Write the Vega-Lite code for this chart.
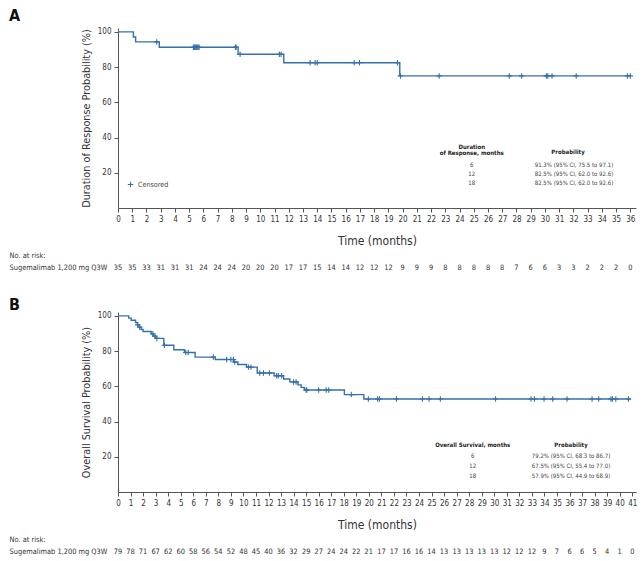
{
  "$schema": "https://vega.github.io/schema/vega-lite/v6.json",
  "padding": {"left": 9, "top": 7, "right": 2, "bottom": 2},
  "background": "white",
  "config": {
    "font": "DejaVu Sans Condensed, DejaVu Sans, sans-serif",
    "view": {"stroke": null},
    "axis": {"domainColor": "#555", "tickColor": "#555", "labelColor": "#333", "titleColor": "#333", "labelFontSize": 8, "titleFontSize": 12, "titleFontWeight": "normal", "tickSize": 4, "labelPadding": 3, "grid": false},
    "title": {"fontSize": 16, "fontWeight": "bold", "anchor": "start", "color": "#111"},
    "legend": {"title": null, "orient": "none", "symbolType": "M0,-1L0,1M-1,0L1,0", "symbolSize": 30, "symbolStrokeWidth": 1.1, "labelFontSize": 7.1, "labelColor": "#444", "padding": 0}
  },
  "datasets": {
    "a_curve": [
      {"t": 0, "s": 100}, {"t": 1.08, "s": 97.1}, {"t": 1.24, "s": 94.3}, {"t": 2.9, "s": 91.3},
      {"t": 8.44, "s": 87.3}, {"t": 11.65, "s": 82.5}, {"t": 19.8, "s": 75.0}, {"t": 36.0, "s": 75.0}
    ],
    "a_cens": [
      {"t": 2.72, "s": 94.3, "status": "Censored"},
      {"t": 5.3, "s": 91.3, "status": "Censored"}, {"t": 5.37, "s": 91.3, "status": "Censored"},
      {"t": 5.43, "s": 91.3, "status": "Censored"}, {"t": 5.5, "s": 91.3, "status": "Censored"},
      {"t": 5.57, "s": 91.3, "status": "Censored"}, {"t": 5.63, "s": 91.3, "status": "Censored"},
      {"t": 5.7, "s": 91.3, "status": "Censored"},
      {"t": 8.25, "s": 91.3, "status": "Censored"}, {"t": 8.3, "s": 91.3, "status": "Censored"},
      {"t": 8.58, "s": 87.3, "status": "Censored"},
      {"t": 11.34, "s": 87.3, "status": "Censored"}, {"t": 11.46, "s": 87.3, "status": "Censored"},
      {"t": 13.5, "s": 82.5, "status": "Censored"}, {"t": 13.85, "s": 82.5, "status": "Censored"},
      {"t": 14.0, "s": 82.5, "status": "Censored"}, {"t": 16.6, "s": 82.5, "status": "Censored"},
      {"t": 16.97, "s": 82.5, "status": "Censored"}, {"t": 19.64, "s": 82.5, "status": "Censored"},
      {"t": 19.85, "s": 75.0, "status": "Censored"}, {"t": 22.57, "s": 75.0, "status": "Censored"},
      {"t": 27.5, "s": 75.0, "status": "Censored"}, {"t": 28.36, "s": 75.0, "status": "Censored"},
      {"t": 30.1, "s": 75.0, "status": "Censored"}, {"t": 30.2, "s": 75.0, "status": "Censored"},
      {"t": 30.5, "s": 75.0, "status": "Censored"}, {"t": 32.2, "s": 75.0, "status": "Censored"},
      {"t": 35.8, "s": 75.0, "status": "Censored"}, {"t": 36.0, "s": 75.0, "status": "Censored"}
    ],
    "a_table_head": [
      {"c": 0, "r": 0, "label": "Duration\nof Response, months"},
      {"c": 1, "r": 0, "label": "Probability"}
    ],
    "a_table": [
      {"c": 0, "r": 1, "label": "6"},
      {"c": 1, "r": 1, "label": "91.3% (95% CI, 75.5 to 97.1)"},
      {"c": 0, "r": 2, "label": "12"},
      {"c": 1, "r": 2, "label": "82.5% (95% CI, 62.0 to 92.6)"},
      {"c": 0, "r": 3, "label": "18"},
      {"c": 1, "r": 3, "label": "82.5% (95% CI, 62.0 to 92.6)"}
    ],
    "a_risk": [
      {"t": 0, "n": 35, "g": "Sugemalimab 1,200 mg Q3W"}, {"t": 1, "n": 35, "g": "Sugemalimab 1,200 mg Q3W"},
      {"t": 2, "n": 33, "g": "Sugemalimab 1,200 mg Q3W"}, {"t": 3, "n": 31, "g": "Sugemalimab 1,200 mg Q3W"},
      {"t": 4, "n": 31, "g": "Sugemalimab 1,200 mg Q3W"}, {"t": 5, "n": 31, "g": "Sugemalimab 1,200 mg Q3W"},
      {"t": 6, "n": 24, "g": "Sugemalimab 1,200 mg Q3W"}, {"t": 7, "n": 24, "g": "Sugemalimab 1,200 mg Q3W"},
      {"t": 8, "n": 24, "g": "Sugemalimab 1,200 mg Q3W"}, {"t": 9, "n": 20, "g": "Sugemalimab 1,200 mg Q3W"},
      {"t": 10, "n": 20, "g": "Sugemalimab 1,200 mg Q3W"}, {"t": 11, "n": 20, "g": "Sugemalimab 1,200 mg Q3W"},
      {"t": 12, "n": 17, "g": "Sugemalimab 1,200 mg Q3W"}, {"t": 13, "n": 17, "g": "Sugemalimab 1,200 mg Q3W"},
      {"t": 14, "n": 15, "g": "Sugemalimab 1,200 mg Q3W"}, {"t": 15, "n": 14, "g": "Sugemalimab 1,200 mg Q3W"},
      {"t": 16, "n": 14, "g": "Sugemalimab 1,200 mg Q3W"}, {"t": 17, "n": 12, "g": "Sugemalimab 1,200 mg Q3W"},
      {"t": 18, "n": 12, "g": "Sugemalimab 1,200 mg Q3W"}, {"t": 19, "n": 12, "g": "Sugemalimab 1,200 mg Q3W"},
      {"t": 20, "n": 9, "g": "Sugemalimab 1,200 mg Q3W"}, {"t": 21, "n": 9, "g": "Sugemalimab 1,200 mg Q3W"},
      {"t": 22, "n": 9, "g": "Sugemalimab 1,200 mg Q3W"}, {"t": 23, "n": 8, "g": "Sugemalimab 1,200 mg Q3W"},
      {"t": 24, "n": 8, "g": "Sugemalimab 1,200 mg Q3W"}, {"t": 25, "n": 8, "g": "Sugemalimab 1,200 mg Q3W"},
      {"t": 26, "n": 8, "g": "Sugemalimab 1,200 mg Q3W"}, {"t": 27, "n": 8, "g": "Sugemalimab 1,200 mg Q3W"},
      {"t": 28, "n": 7, "g": "Sugemalimab 1,200 mg Q3W"}, {"t": 29, "n": 6, "g": "Sugemalimab 1,200 mg Q3W"},
      {"t": 30, "n": 6, "g": "Sugemalimab 1,200 mg Q3W"}, {"t": 31, "n": 3, "g": "Sugemalimab 1,200 mg Q3W"},
      {"t": 32, "n": 3, "g": "Sugemalimab 1,200 mg Q3W"}, {"t": 33, "n": 2, "g": "Sugemalimab 1,200 mg Q3W"},
      {"t": 34, "n": 2, "g": "Sugemalimab 1,200 mg Q3W"}, {"t": 35, "n": 2, "g": "Sugemalimab 1,200 mg Q3W"},
      {"t": 36, "n": 0, "g": "Sugemalimab 1,200 mg Q3W"}
    ],
    "b_curve": [
      {"t": 0, "s": 100}, {"t": 0.85, "s": 98.7}, {"t": 1.05, "s": 97.5}, {"t": 1.4, "s": 96.2},
      {"t": 1.55, "s": 94.9}, {"t": 1.7, "s": 93.6}, {"t": 1.85, "s": 92.3}, {"t": 2.0, "s": 91.1},
      {"t": 2.65, "s": 89.8}, {"t": 2.8, "s": 88.5}, {"t": 3.0, "s": 87.2}, {"t": 3.65, "s": 83.3},
      {"t": 4.45, "s": 80.8}, {"t": 5.3, "s": 79.2}, {"t": 6.15, "s": 76.6}, {"t": 7.75, "s": 75.2},
      {"t": 9.25, "s": 73.8}, {"t": 9.55, "s": 72.4}, {"t": 10.25, "s": 70.9}, {"t": 11.1, "s": 67.6},
      {"t": 12.45, "s": 66.0}, {"t": 13.2, "s": 64.2}, {"t": 13.7, "s": 62.5}, {"t": 14.35, "s": 60.8},
      {"t": 14.6, "s": 59.4}, {"t": 14.85, "s": 57.9}, {"t": 18.05, "s": 55.3}, {"t": 19.6, "s": 52.8},
      {"t": 40.9, "s": 52.8}
    ],
    "b_cens": [
      {"t": 1.57, "s": 94.9, "status": "Censored"}, {"t": 1.73, "s": 93.6, "status": "Censored"},
      {"t": 2.78, "s": 89.8, "status": "Censored"}, {"t": 2.94, "s": 88.5, "status": "Censored"},
      {"t": 3.1, "s": 87.2, "status": "Censored"}, {"t": 3.7, "s": 83.3, "status": "Censored"},
      {"t": 5.4, "s": 79.2, "status": "Censored"}, {"t": 5.6, "s": 79.2, "status": "Censored"},
      {"t": 7.6, "s": 76.6, "status": "Censored"}, {"t": 8.66, "s": 75.2, "status": "Censored"},
      {"t": 9.0, "s": 75.2, "status": "Censored"}, {"t": 9.2, "s": 75.2, "status": "Censored"},
      {"t": 9.3, "s": 73.8, "status": "Censored"}, {"t": 10.4, "s": 70.9, "status": "Censored"},
      {"t": 10.6, "s": 70.9, "status": "Censored"}, {"t": 11.3, "s": 67.6, "status": "Censored"},
      {"t": 11.6, "s": 67.6, "status": "Censored"}, {"t": 12.07, "s": 67.6, "status": "Censored"},
      {"t": 12.65, "s": 66.0, "status": "Censored"}, {"t": 12.78, "s": 66.0, "status": "Censored"},
      {"t": 13.05, "s": 66.0, "status": "Censored"}, {"t": 14.0, "s": 62.5, "status": "Censored"},
      {"t": 14.2, "s": 62.5, "status": "Censored"}, {"t": 15.0, "s": 57.9, "status": "Censored"},
      {"t": 15.05, "s": 57.9, "status": "Censored"}, {"t": 16.0, "s": 57.9, "status": "Censored"},
      {"t": 16.6, "s": 57.9, "status": "Censored"}, {"t": 16.8, "s": 57.9, "status": "Censored"},
      {"t": 18.6, "s": 55.3, "status": "Censored"}, {"t": 19.96, "s": 52.8, "status": "Censored"},
      {"t": 20.7, "s": 52.8, "status": "Censored"}, {"t": 20.84, "s": 52.8, "status": "Censored"},
      {"t": 22.2, "s": 52.8, "status": "Censored"}, {"t": 24.27, "s": 52.8, "status": "Censored"},
      {"t": 24.8, "s": 52.8, "status": "Censored"}, {"t": 25.7, "s": 52.8, "status": "Censored"},
      {"t": 30.1, "s": 52.8, "status": "Censored"}, {"t": 32.93, "s": 52.8, "status": "Censored"},
      {"t": 33.2, "s": 52.8, "status": "Censored"}, {"t": 33.97, "s": 52.8, "status": "Censored"},
      {"t": 34.66, "s": 52.8, "status": "Censored"}, {"t": 35.8, "s": 52.8, "status": "Censored"},
      {"t": 37.8, "s": 52.8, "status": "Censored"}, {"t": 38.33, "s": 52.8, "status": "Censored"},
      {"t": 39.3, "s": 52.8, "status": "Censored"}, {"t": 39.42, "s": 52.8, "status": "Censored"},
      {"t": 39.69, "s": 52.8, "status": "Censored"}, {"t": 40.7, "s": 52.8, "status": "Censored"}
    ],
    "b_table_head": [
      {"c": 0, "r": 0, "label": "Overall Survival, months"},
      {"c": 1, "r": 0, "label": "Probability"}
    ],
    "b_table": [
      {"c": 0, "r": 1, "label": "6"},
      {"c": 1, "r": 1, "label": "79.2% (95% CI, 68.3 to 86.7)"},
      {"c": 0, "r": 2, "label": "12"},
      {"c": 1, "r": 2, "label": "67.5% (95% CI, 55.4 to 77.0)"},
      {"c": 0, "r": 3, "label": "18"},
      {"c": 1, "r": 3, "label": "57.9% (95% CI, 44.9 to 68.9)"}
    ],
    "b_risk": [
      {"t": 0, "n": 79, "g": "Sugemalimab 1,200 mg Q3W"}, {"t": 1, "n": 78, "g": "Sugemalimab 1,200 mg Q3W"},
      {"t": 2, "n": 71, "g": "Sugemalimab 1,200 mg Q3W"}, {"t": 3, "n": 67, "g": "Sugemalimab 1,200 mg Q3W"},
      {"t": 4, "n": 62, "g": "Sugemalimab 1,200 mg Q3W"}, {"t": 5, "n": 60, "g": "Sugemalimab 1,200 mg Q3W"},
      {"t": 6, "n": 58, "g": "Sugemalimab 1,200 mg Q3W"}, {"t": 7, "n": 56, "g": "Sugemalimab 1,200 mg Q3W"},
      {"t": 8, "n": 54, "g": "Sugemalimab 1,200 mg Q3W"}, {"t": 9, "n": 52, "g": "Sugemalimab 1,200 mg Q3W"},
      {"t": 10, "n": 48, "g": "Sugemalimab 1,200 mg Q3W"}, {"t": 11, "n": 45, "g": "Sugemalimab 1,200 mg Q3W"},
      {"t": 12, "n": 40, "g": "Sugemalimab 1,200 mg Q3W"}, {"t": 13, "n": 36, "g": "Sugemalimab 1,200 mg Q3W"},
      {"t": 14, "n": 32, "g": "Sugemalimab 1,200 mg Q3W"}, {"t": 15, "n": 29, "g": "Sugemalimab 1,200 mg Q3W"},
      {"t": 16, "n": 27, "g": "Sugemalimab 1,200 mg Q3W"}, {"t": 17, "n": 24, "g": "Sugemalimab 1,200 mg Q3W"},
      {"t": 18, "n": 24, "g": "Sugemalimab 1,200 mg Q3W"}, {"t": 19, "n": 22, "g": "Sugemalimab 1,200 mg Q3W"},
      {"t": 20, "n": 21, "g": "Sugemalimab 1,200 mg Q3W"}, {"t": 21, "n": 17, "g": "Sugemalimab 1,200 mg Q3W"},
      {"t": 22, "n": 17, "g": "Sugemalimab 1,200 mg Q3W"}, {"t": 23, "n": 16, "g": "Sugemalimab 1,200 mg Q3W"},
      {"t": 24, "n": 16, "g": "Sugemalimab 1,200 mg Q3W"}, {"t": 25, "n": 14, "g": "Sugemalimab 1,200 mg Q3W"},
      {"t": 26, "n": 13, "g": "Sugemalimab 1,200 mg Q3W"}, {"t": 27, "n": 13, "g": "Sugemalimab 1,200 mg Q3W"},
      {"t": 28, "n": 13, "g": "Sugemalimab 1,200 mg Q3W"}, {"t": 29, "n": 13, "g": "Sugemalimab 1,200 mg Q3W"},
      {"t": 30, "n": 13, "g": "Sugemalimab 1,200 mg Q3W"}, {"t": 31, "n": 12, "g": "Sugemalimab 1,200 mg Q3W"},
      {"t": 32, "n": 12, "g": "Sugemalimab 1,200 mg Q3W"}, {"t": 33, "n": 12, "g": "Sugemalimab 1,200 mg Q3W"},
      {"t": 34, "n": 9, "g": "Sugemalimab 1,200 mg Q3W"}, {"t": 35, "n": 7, "g": "Sugemalimab 1,200 mg Q3W"},
      {"t": 36, "n": 6, "g": "Sugemalimab 1,200 mg Q3W"}, {"t": 37, "n": 6, "g": "Sugemalimab 1,200 mg Q3W"},
      {"t": 38, "n": 5, "g": "Sugemalimab 1,200 mg Q3W"}, {"t": 39, "n": 4, "g": "Sugemalimab 1,200 mg Q3W"},
      {"t": 40, "n": 1, "g": "Sugemalimab 1,200 mg Q3W"}, {"t": 41, "n": 0, "g": "Sugemalimab 1,200 mg Q3W"}
    ]
  },
  "spacing": 22,
  "vconcat": [
    {
      "title": {"text": "A", "offset": 4},
      "spacing": 4,
      "vconcat": [
        {
          "width": 518,
          "height": 180,
          "layer": [
            {
              "encoding": {
                "x": {"field": "t", "type": "quantitative", "scale": {"domain": [0, 36.4], "nice": false, "zero": false},
                  "axis": {"values": [0,1,2,3,4,5,6,7,8,9,10,11,12,13,14,15,16,17,18,19,20,21,22,23,24,25,26,27,28,29,30,31,32,33,34,35,36], "title": "Time (months)", "labelOverlap": false, "labelFlush": false, "titlePadding": 12, "format": "d"}},
                "y": {"field": "s", "type": "quantitative", "scale": {"domain": [0, 102.2], "nice": false},
                  "axis": {"values": [20, 40, 60, 80, 100], "title": "Duration of Response Probability (%)", "titleFontSize": 10.8, "titlePadding": 6}}
              },
              "layer": [
                {
                  "data": {"name": "a_curve"},
                  "mark": {"type": "line", "interpolate": "step-after", "color": "#3570aa", "strokeWidth": 1.4}
                },
                {
                  "data": {"name": "a_cens"},
                  "mark": {"type": "point", "shape": "M0,-1L0,1M-1,0L1,0", "filled": false, "size": 30, "strokeWidth": 1.1, "opacity": 1},
                  "encoding": {
                    "color": {"field": "status", "type": "nominal", "scale": {"range": ["#3570aa"]}, "legend": {"legendX": 9, "legendY": 153}}
                  }
                }
              ]
            },
            {
              "encoding": {
                "x": {"field": "c", "type": "quantitative", "scale": {"domain": [-3.673, 1.706], "nice": false, "zero": false}, "axis": null},
                "y": {"field": "r", "type": "quantitative", "scale": {"domain": [-13.699, 5.656], "nice": false, "zero": false, "reverse": true}, "axis": null},
                "text": {"field": "label"}
              },
              "layer": [
                {"data": {"name": "a_table_head"}, "transform": [{"filter": "datum.c == 0"}], "mark": {"type": "text", "baseline": "bottom", "dy": -5.8, "fontSize": 6, "fontWeight": "bold", "color": "#222", "lineBreak": "\n", "lineHeight": 6.6}},
                {"data": {"name": "a_table_head"}, "transform": [{"filter": "datum.c == 1"}], "mark": {"type": "text", "baseline": "bottom", "fontSize": 6, "fontWeight": "bold", "color": "#222"}},
                {"data": {"name": "a_table"}, "transform": [{"filter": "datum.c == 0"}], "mark": {"type": "text", "baseline": "middle", "fontSize": 6, "color": "#444"}},
                {"data": {"name": "a_table"}, "transform": [{"filter": "datum.c == 1"}], "mark": {"type": "text", "baseline": "middle", "dx": 6, "fontSize": 6, "color": "#444"}}
              ]
            }
          ],
          "resolve": {"scale": {"x": "independent", "y": "independent"}}
        },
        {
          "width": 518,
          "height": 24,
          "data": {"name": "a_risk"},
          "mark": {"type": "text", "fontSize": 7.4, "color": "#333"},
          "encoding": {
            "x": {"field": "t", "type": "quantitative", "scale": {"domain": [0, 36.4], "nice": false, "zero": false}, "axis": null},
            "y": {"field": "g", "type": "nominal", "scale": {"type": "band", "domain": ["No. at risk:", "Sugemalimab 1,200 mg Q3W"], "paddingInner": 0, "paddingOuter": 0},
              "axis": {"title": null, "domain": false, "ticks": false, "tickSize": 0, "labelAlign": "left", "labelPadding": 109, "labelFontSize": 7.4, "labelColor": "#333"}},
            "text": {"field": "n"}
          }
        }
      ]
    },
    {
      "title": {"text": "B", "offset": -1},
      "spacing": 4,
      "vconcat": [
        {
          "width": 518,
          "height": 180,
          "layer": [
            {
              "encoding": {
                "x": {"field": "t", "type": "quantitative", "scale": {"domain": [0, 41.3], "nice": false, "zero": false},
                  "axis": {"values": [0,1,2,3,4,5,6,7,8,9,10,11,12,13,14,15,16,17,18,19,20,21,22,23,24,25,26,27,28,29,30,31,32,33,34,35,36,37,38,39,40,41], "title": "Time (months)", "labelOverlap": false, "labelFlush": false, "titlePadding": 12, "format": "d"}},
                "y": {"field": "s", "type": "quantitative", "scale": {"domain": [0, 102.2], "nice": false},
                  "axis": {"values": [20, 40, 60, 80, 100], "title": "Overall Survival Probability (%)", "titleFontSize": 10.8, "titlePadding": 6}}
              },
              "layer": [
                {
                  "data": {"name": "b_curve"},
                  "mark": {"type": "line", "interpolate": "step-after", "color": "#3570aa", "strokeWidth": 1.4}
                },
                {
                  "data": {"name": "b_cens"},
                  "mark": {"type": "point", "shape": "M0,-1L0,1M-1,0L1,0", "filled": false, "size": 30, "strokeWidth": 1.1, "opacity": 1},
                  "encoding": {
                    "color": {"field": "status", "type": "nominal", "scale": {"range": ["#3570aa"]}, "legend": {"legendX": 9, "legendY": 163}}
                  }
                }
              ]
            },
            {
              "encoding": {
                "x": {"field": "c", "type": "quantitative", "scale": {"domain": [-3.608, 1.661], "nice": false, "zero": false}, "axis": null},
                "y": {"field": "r", "type": "quantitative", "scale": {"domain": [-12.961, 4.515], "nice": false, "zero": false, "reverse": true}, "axis": null},
                "text": {"field": "label"}
              },
              "layer": [
                {"data": {"name": "b_table_head"}, "mark": {"type": "text", "baseline": "middle", "fontSize": 6, "fontWeight": "bold", "color": "#222"}},
                {"data": {"name": "b_table"}, "mark": {"type": "text", "baseline": "middle", "fontSize": 6, "color": "#444"}}
              ]
            }
          ],
          "resolve": {"scale": {"x": "independent", "y": "independent"}}
        },
        {
          "width": 518,
          "height": 24,
          "data": {"name": "b_risk"},
          "mark": {"type": "text", "fontSize": 7.4, "color": "#333"},
          "encoding": {
            "x": {"field": "t", "type": "quantitative", "scale": {"domain": [0, 41.3], "nice": false, "zero": false}, "axis": null},
            "y": {"field": "g", "type": "nominal", "scale": {"type": "band", "domain": ["No. at risk:", "Sugemalimab 1,200 mg Q3W"], "paddingInner": 0, "paddingOuter": 0},
              "axis": {"title": null, "domain": false, "ticks": false, "tickSize": 0, "labelAlign": "left", "labelPadding": 109, "labelFontSize": 7.4, "labelColor": "#333"}},
            "text": {"field": "n"}
          }
        }
      ]
    }
  ]
}
